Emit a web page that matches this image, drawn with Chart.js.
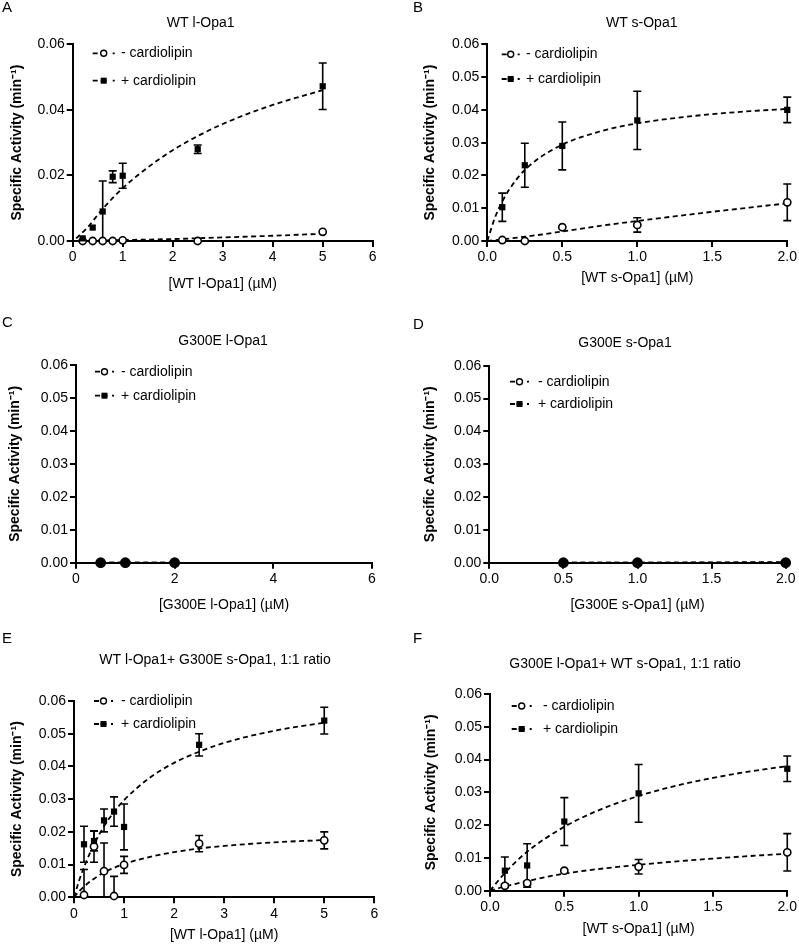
<!DOCTYPE html>
<html>
<head>
<meta charset="utf-8">
<script src="https://cdn.jsdelivr.net/npm/chart.js@4.4.0/dist/chart.umd.min.js"></script>
<style>
  body { margin: 0; background: #fff; }
  #wrap { position: relative; width: 799px; height: 946px; overflow: hidden; }
  #wrap canvas { position: absolute; }
</style>
</head>
<body>
<div id="wrap">
  <canvas id="cA" style="left:0;top:0"></canvas>
  <canvas id="cB" style="left:400px;top:0"></canvas>
  <canvas id="cC" style="left:0;top:310px"></canvas>
  <canvas id="cD" style="left:400px;top:310px"></canvas>
  <canvas id="cE" style="left:0;top:620px"></canvas>
  <canvas id="cF" style="left:400px;top:620px"></canvas>
</div>
<script>
// ---- data ----
// A: WT l-Opa1
const aX = [0.2, 0.4, 0.6, 0.8, 1, 2.5, 5];
const aPlus = [0.0008, 0.0041, 0.0090, 0.0196, 0.0199, 0.0280, 0.0472];
const aPlusErr = [0, 0, 0.0093, 0.0018, 0.0038, 0.0013, 0.0071];
const aMinus = [0, 0, 0, 0, 0.0002, 0, 0.0028];
const aMinusErr = [0, 0, 0, 0, 0, 0, 0];
const aFitPlusX = [0.07, 0.3, 0.6, 1, 1.5, 2, 2.5, 3, 4, 5];
const aFitPlusY = [0.0008, 0.0042, 0.0098, 0.0161, 0.0224, 0.0277, 0.0320, 0.0357, 0.0415, 0.0460];
const aFitMinusX = [0, 1, 2, 3, 4, 5];
const aFitMinusY = [0, 0.0003, 0.0006, 0.0011, 0.0016, 0.0022];

// B: WT s-Opa1
const bX = [0.1, 0.25, 0.5, 1, 2];
const bPlus = [0.0103, 0.0231, 0.0290, 0.0368, 0.0400];
const bPlusErr = [0.0043, 0.0067, 0.0073, 0.0089, 0.0039];
const bMinus = [0.0003, 0, 0.0042, 0.0049, 0.0118];
const bMinusErr = [0, 0, 0, 0.0022, 0.0056];
const bFitPlusX = [0, 0.05, 0.1, 0.2, 0.3, 0.5, 0.75, 1, 1.25, 1.5, 1.75, 2];
const bFitPlusY = [0, 0.0070, 0.0121, 0.0191, 0.0237, 0.0294, 0.0334, 0.0359, 0.0375, 0.0387, 0.0396, 0.0403];
const bFitMinusX = [0, 0.25, 0.5, 0.75, 1, 1.5, 2];
const bFitMinusY = [0, 0.0013, 0.0029, 0.0046, 0.0061, 0.0089, 0.0115];

// C: G300E l-Opa1
const cX = [0.5, 1, 2];
const cPlus = [0, 0, 0];
const cPlusErr = [0, 0, 0];
const cMinus = [0, 0, 0];
const cMinusErr = [0, 0, 0];
const cFitX = [0.5, 1, 2];
const cFitPlusY = [0, 0, 0];
const cFitMinusY = [0, 0, 0];

// D: G300E s-Opa1
const dX = [0.5, 1, 2];
const dPlus = [0, 0, 0.0002];
const dPlusErr = [0, 0, 0];
const dMinus = [0, 0, 0];
const dMinusErr = [0, 0, 0];
const dFitX = [0.5, 1, 1.5, 2];
const dFitPlusY = [0, 0, 0.0001, 0.0002];
const dFitMinusY = [0, 0, 0, 0];

// E: WT l-Opa1 + G300E s-Opa1
const eX = [0.2, 0.4, 0.6, 0.8, 1, 2.5, 5];
const ePlus = [0.0162, 0.0172, 0.0235, 0.0262, 0.0215, 0.0466, 0.0540];
const ePlusErr = [0.0055, 0.0030, 0.0035, 0.0045, 0.0070, 0.0034, 0.0041];
const eMinus = [0.0007, 0.0155, 0.0080, 0.0004, 0.0099, 0.0164, 0.0174];
const eMinusErr = [0.0078, 0.0048, 0.0086, 0.0060, 0.0026, 0.0025, 0.0026];
const eFitX = [0, 0.1, 0.2, 0.4, 0.6, 0.8, 1, 1.5, 2, 2.5, 3, 4, 5];
const eFitPlusY = [0, 0.0050, 0.0092, 0.0162, 0.0217, 0.0261, 0.0297, 0.0364, 0.0411, 0.0445, 0.0472, 0.0509, 0.0534];
const eFitMinusY = [0, 0.0018, 0.0033, 0.0057, 0.0076, 0.0090, 0.0102, 0.0123, 0.0138, 0.0149, 0.0157, 0.0168, 0.0175];

// F: G300E l-Opa1 + WT s-Opa1
const fX = [0.1, 0.25, 0.5, 1, 2];
const fPlus = [0.0061, 0.0077, 0.0211, 0.0297, 0.0372];
const fPlusErr = [0.0042, 0.0066, 0.0073, 0.0088, 0.0039];
const fMinus = [0.0015, 0.0023, 0.0061, 0.0073, 0.0117];
const fMinusErr = [0.0005, 0.0006, 0, 0.0022, 0.0057];
const fFitPlusX = [0, 0.1, 0.25, 0.5, 0.75, 1, 1.25, 1.5, 1.75, 2];
const fFitPlusY = [0, 0.0054, 0.0119, 0.0195, 0.0249, 0.0289, 0.0320, 0.0344, 0.0364, 0.0380];
const fFitMinusX = [0, 0.1, 0.25, 0.5, 1, 1.5, 2];
const fFitMinusY = [0, 0.0013, 0.0029, 0.0052, 0.0079, 0.0098, 0.0113];

const legendLabels = ['- cardiolipin', '+ cardiolipin'];
const yTitle = 'Specific Activity (min\u207B\u00B9)';

Chart.defaults.font.family = "'Liberation Sans', Arial, Helvetica, sans-serif";
Chart.defaults.font.size = 14;
Chart.defaults.color = '#000';

function pts(xs, ys) {
  return xs.map((x, i) => ({ x: x, y: ys[i] }));
}

// error bars drawn under the markers
const errorBars = {
  id: 'errorBars',
  beforeDatasetsDraw(chart) {
    const { ctx, scales: { x, y } } = chart;
    ctx.save();
    ctx.strokeStyle = '#000';
    ctx.lineWidth = 1.6;
    chart.data.datasets.forEach(ds => {
      if (!ds.errors) return;
      ds.data.forEach((p, i) => {
        const e = ds.errors[i];
        if (!e) return;
        const px = x.getPixelForValue(p.x);
        const top = y.getPixelForValue(p.y + e);
        const bot = y.getPixelForValue(Math.max(p.y - e, y.min));
        ctx.beginPath();
        ctx.moveTo(px, top); ctx.lineTo(px, bot);
        ctx.moveTo(px - 4, top); ctx.lineTo(px + 4, top);
        if (p.y - e > y.min) { ctx.moveTo(px - 4, bot); ctx.lineTo(px + 4, bot); }
        ctx.stroke();
      });
    });
    ctx.restore();
  }
};

// panel letter, title and the little legend inside the plot
const decor = {
  id: 'decor',
  afterDraw(chart, args, o) {
    const ctx = chart.ctx;
    ctx.save();
    ctx.fillStyle = '#000';
    ctx.textBaseline = 'middle';
    ctx.font = "15px 'Liberation Sans', Arial, sans-serif";
    ctx.textAlign = 'left';
    ctx.fillText(o.letter, o.letterX, o.letterY);
    ctx.font = "14px 'Liberation Sans', Arial, sans-serif";
    ctx.textAlign = 'center';
    ctx.fillText(o.title, o.titleX, o.titleY);
    ctx.textAlign = 'left';
    [o.legY1, o.legY2].forEach((ly, i) => {
      const lx = o.legX;
      const lw = o.legW;
      const mx = lx + lw / 2;
      ctx.strokeStyle = '#000';
      ctx.lineWidth = 1.8;
      ctx.beginPath();
      ctx.moveTo(lx, ly); ctx.lineTo(lx + 5, ly);
      ctx.moveTo(mx - 3, ly); ctx.lineTo(mx + 3, ly);
      ctx.moveTo(lx + lw - 2, ly); ctx.lineTo(lx + lw, ly);
      ctx.stroke();
      if (i === 0) {
        ctx.fillStyle = '#fff';
        ctx.lineWidth = 1.4;
        ctx.beginPath(); ctx.arc(mx, ly, 3, 0, Math.PI * 2); ctx.fill(); ctx.stroke();
      } else {
        ctx.fillStyle = '#000';
        ctx.fillRect(mx - 3, ly - 3, 6, 6);
      }
      ctx.fillStyle = '#000';
      ctx.fillText(legendLabels[i], o.legTextX, ly);
    });
    ctx.restore();
  }
};

function makePanel(id, p) {
  const canvas = document.getElementById(id);
  canvas.width = p.w;
  canvas.height = p.h;
  new Chart(canvas, {
    type: 'scatter',
    data: {
      datasets: [
        { label: legendLabels[1], data: pts(p.x, p.plus), errors: p.plusErr,
          pointStyle: 'rect', pointRadius: 4.4, backgroundColor: '#000', borderColor: '#000', borderWidth: 0, clip: false },
        { label: legendLabels[0], data: pts(p.x, p.minus), errors: p.minusErr,
          pointStyle: 'circle', pointRadius: p.minusR || 3.6, backgroundColor: p.minusFill || '#fff',
          borderColor: '#000', borderWidth: 1.6, clip: false },
        { type: 'line', data: pts(p.fitPlusX, p.fitPlusY), borderColor: '#000', borderWidth: 1.8,
          borderDash: [5, 3.5], pointRadius: 0, cubicInterpolationMode: 'monotone', fill: false, clip: false },
        { type: 'line', data: pts(p.fitMinusX, p.fitMinusY), borderColor: '#000', borderWidth: 1.8,
          borderDash: [5, 3.5], pointRadius: 0, cubicInterpolationMode: 'monotone', fill: false, clip: false }
      ]
    },
    options: {
      responsive: false,
      animation: false,
      events: [],
      layout: { padding: { left: 0, top: p.padTop, right: p.padRight, bottom: p.padBottom } },
      plugins: {
        legend: { display: false },
        tooltip: { enabled: false },
        decor: p.decor
      },
      scales: {
        x: {
          type: 'linear', min: 0, max: p.xMax,
          afterFit: s => { s.height = p.xH; },
          ticks: { stepSize: p.xStep, padding: 2, autoSkip: false, maxRotation: 0, color: '#000',
            callback: v => p.xDec ? v.toFixed(1) : String(v) },
          grid: { drawOnChartArea: false, drawTicks: true, tickLength: 6, lineWidth: 2, color: '#000' },
          border: { color: '#000', width: 2 },
          title: { display: true, text: p.xTitle, color: '#000', font: { size: 14 }, padding: 0 }
        },
        y: {
          type: 'linear', min: 0, max: 0.06,
          afterFit: s => { s.width = p.yW; },
          ticks: { stepSize: p.yStep, padding: 2, autoSkip: false, color: '#000',
            callback: v => v.toFixed(2) },
          grid: { drawOnChartArea: false, drawTicks: true, tickLength: 6, lineWidth: 2, color: '#000' },
          border: { color: '#000', width: 2 },
          title: { display: true, text: yTitle, color: '#000', font: { size: 14, weight: 'bold' },
            padding: { top: p.yTitlePad, bottom: 0 } }
        }
      }
    },
    plugins: [errorBars, decor]
  });
}

makePanel('cA', {
  w: 400, h: 310, padTop: 44.3, padRight: 27.3, padBottom: 17.6, xH: 51.4, yW: 72.7, yTitlePad: 8.6,
  xMax: 6, xStep: 1, xDec: false, yStep: 0.02, xTitle: '[WT l-Opa1] (\u00B5M)',
  x: aX, plus: aPlus, plusErr: aPlusErr, minus: aMinus, minusErr: aMinusErr,
  fitPlusX: aFitPlusX, fitPlusY: aFitPlusY, fitMinusX: aFitMinusX, fitMinusY: aFitMinusY,
  decor: { letter: 'A', letterX: 2, letterY: 8, title: 'WT l-Opa1', titleX: 200.7, titleY: 23.3,
    legX: 92.7, legW: 22, legY1: 53.3, legY2: 80.7, legTextX: 121 }
});

makePanel('cB', {
  w: 399, h: 310, padTop: 44.3, padRight: 11.3, padBottom: 23.3, xH: 45.7, yW: 87.3, yTitlePad: 21.6,
  xMax: 2, xStep: 0.5, xDec: true, yStep: 0.01, xTitle: '[WT s-Opa1] (\u00B5M)',
  x: bX, plus: bPlus, plusErr: bPlusErr, minus: bMinus, minusErr: bMinusErr,
  fitPlusX: bFitPlusX, fitPlusY: bFitPlusY, fitMinusX: bFitMinusX, fitMinusY: bFitMinusY,
  decor: { letter: 'B', letterX: 13, letterY: 8, title: 'WT s-Opa1', titleX: 241.7, titleY: 22.7,
    legX: 101.7, legW: 18, legY1: 54.3, legY2: 79, legTextX: 126 }
});

makePanel('cC', {
  w: 400, h: 310, padTop: 55, padRight: 28, padBottom: 6.6, xH: 50.7, yW: 76, yTitlePad: 6.6,
  xMax: 6, xStep: 2, xDec: false, yStep: 0.01, xTitle: '[G300E l-Opa1] (\u00B5M)',
  minusFill: '#000', minusR: 4.6,
  x: cX, plus: cPlus, plusErr: cPlusErr, minus: cMinus, minusErr: cMinusErr,
  fitPlusX: cFitX, fitPlusY: cFitPlusY, fitMinusX: cFitX, fitMinusY: cFitMinusY,
  decor: { letter: 'C', letterX: 2, letterY: 13, title: 'G300E l-Opa1', titleX: 223, titleY: 30.7,
    legX: 95, legW: 19, legY1: 61.7, legY2: 85.7, legTextX: 121 }
});

makePanel('cD', {
  w: 399, h: 310, padTop: 55.7, padRight: 13.3, padBottom: 6.6, xH: 50.7, yW: 89.3, yTitlePad: 21.6,
  xMax: 2, xStep: 0.5, xDec: true, yStep: 0.01, xTitle: '[G300E s-Opa1] (\u00B5M)',
  minusFill: '#000', minusR: 4.6,
  x: dX, plus: dPlus, plusErr: dPlusErr, minus: dMinus, minusErr: dMinusErr,
  fitPlusX: dFitX, fitPlusY: dFitPlusY, fitMinusX: dFitX, fitMinusY: dFitMinusY,
  decor: { letter: 'D', letterX: 13, letterY: 15, title: 'G300E s-Opa1', titleX: 225, titleY: 32.7,
    legX: 110, legW: 19, legY1: 71.7, legY2: 94, legTextX: 138 }
});

makePanel('cE', {
  w: 400, h: 326, padTop: 81, padRight: 25.7, padBottom: 2.6, xH: 46.1, yW: 74, yTitlePad: 8.6,
  xMax: 6, xStep: 1, xDec: false, yStep: 0.01, xTitle: '[WT l-Opa1] (\u00B5M)',
  x: eX, plus: ePlus, plusErr: ePlusErr, minus: eMinus, minusErr: eMinusErr,
  fitPlusX: eFitX, fitPlusY: eFitPlusY, fitMinusX: eFitX, fitMinusY: eFitMinusY,
  decor: { letter: 'E', letterX: 2, letterY: 19, title: 'WT l-Opa1+ G300E s-Opa1, 1:1 ratio', titleX: 215, titleY: 40,
    legX: 94, legW: 19, legY1: 81, legY2: 104, legTextX: 121 }
});

makePanel('cF', {
  w: 399, h: 326, padTop: 74, padRight: 10, padBottom: 8.6, xH: 46.7, yW: 90, yTitlePad: 22.6,
  xMax: 2, xStep: 0.5, xDec: true, yStep: 0.01, xTitle: '[WT s-Opa1] (\u00B5M)',
  x: fX, plus: fPlus, plusErr: fPlusErr, minus: fMinus, minusErr: fMinusErr,
  fitPlusX: fFitPlusX, fitPlusY: fFitPlusY, fitMinusX: fFitMinusX, fitMinusY: fFitMinusY,
  decor: { letter: 'F', letterX: 13, letterY: 19, title: 'G300E l-Opa1+ WT s-Opa1, 1:1 ratio', titleX: 225, titleY: 44,
    legX: 111.7, legW: 20, legY1: 86, legY2: 109, legTextX: 143 }
});
</script>
</body>
</html>
